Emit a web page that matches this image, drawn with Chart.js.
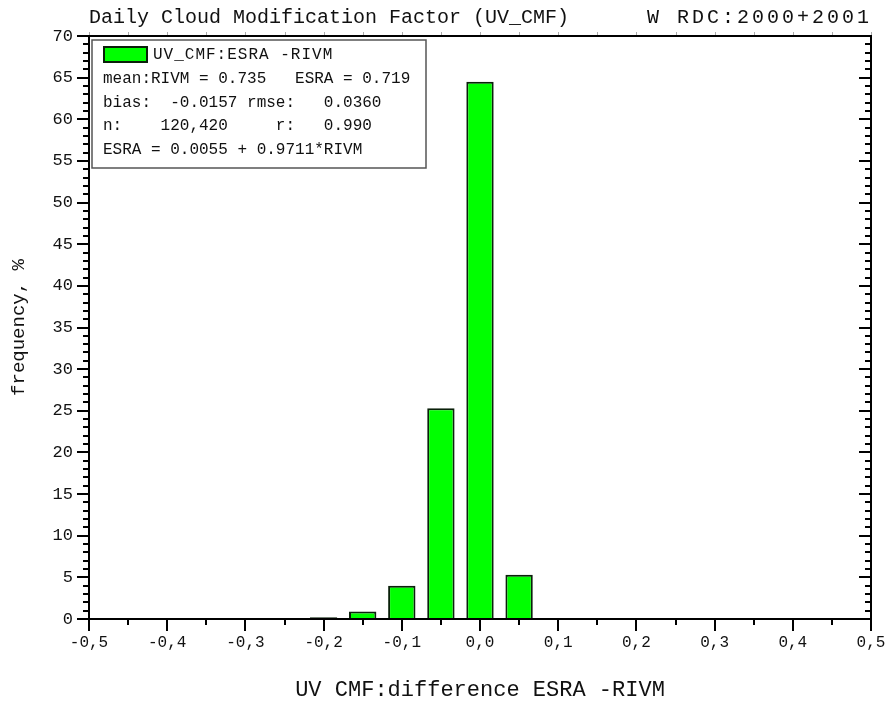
<!DOCTYPE html>
<html>
<head>
<meta charset="utf-8">
<title>UV_CMF ESRA - RIVM</title>
<script src="https://cdn.jsdelivr.net/npm/chart.js@4.4.1/dist/chart.umd.min.js"></script>
<style>
    html, body { margin: 0; padding: 0; background: #fff; }
    #wrap { width: 886px; height: 703px; }
</style>
</head>
<body>
<div id="wrap"><canvas id="cmfChart" width="886" height="703"></canvas></div>
<script>
// Histograma de diferencias diarias ESRA - RIVM (UV_CMF)
const centrosClase = [-0.2, -0.15, -0.1, -0.05, 0.0, 0.05];
const frecuencia = [0.2, 0.9, 4.0, 25.3, 64.5, 5.3];

// Ejes
const rangoX = [-0.5, 0.5];
const pasoX = 0.1;
const rangoY = [0, 70];
const pasoY = 5;

// Textos
const titulo = 'Daily Cloud Modification Factor (UV_CMF)';
const tituloDerecha = 'W RDC:2000+2001';
const etiquetaSerie = 'UV_CMF:ESRA -RIVM';
const lineasEstadisticas = [
    'mean:RIVM = 0.735   ESRA = 0.719',
    'bias:  -0.0157 rmse:   0.0360',
    'n:    120,420     r:   0.990',
    'ESRA = 0.0055 + 0.9711*RIVM'
];
const tituloEjeX = 'UV CMF:difference ESRA -RIVM';
const tituloEjeY = 'frequency, %';

const FUENTE = "'Liberation Mono', 'DejaVu Sans Mono', monospace";
const VERDE = '#00ff00';

function formatoComa(v) {
    if (Math.abs(v) < 1e-9) return '0,0';
    return v.toFixed(1).replace('.', ',');
}

// Marco, marcas de los ejes, título y cuadro de leyenda
const marcoPlugin = {
    id: 'marco',
    afterDatasetsDraw(chart) {
        const ctx = chart.ctx;
        const a = chart.chartArea;
        const sx = chart.scales.x;
        const sy = chart.scales.y;
        ctx.save();

        // marcas grises sobre el borde superior
        ctx.strokeStyle = '#aaa';
        ctx.lineWidth = 1;
        for (let i = -10; i <= 10; i++) {
            const px = Math.round(sx.getPixelForValue(i * 0.05)) + 0.5;
            ctx.beginPath();
            ctx.moveTo(px, a.top - 4);
            ctx.lineTo(px, a.top);
            ctx.stroke();
        }

        // marcas del eje Y (izquierda hacia fuera, derecha hacia dentro)
        ctx.strokeStyle = '#000';
        ctx.lineWidth = 2;
        for (let v = rangoY[0]; v <= rangoY[1]; v++) {
            const py = Math.round(sy.getPixelForValue(v));
            const largo = v % pasoY === 0 ? 12 : 6;
            ctx.beginPath();
            ctx.moveTo(a.left - largo, py);
            ctx.lineTo(a.left, py);
            ctx.moveTo(a.right - largo, py);
            ctx.lineTo(a.right, py);
            ctx.stroke();
        }

        // marcas del eje X
        for (let i = -10; i <= 10; i++) {
            const px = Math.round(sx.getPixelForValue(i * 0.05));
            const largo = i % 2 === 0 ? 12 : 6;
            ctx.beginPath();
            ctx.moveTo(px, a.bottom);
            ctx.lineTo(px, a.bottom + largo);
            ctx.stroke();
        }

        // marco
        ctx.lineWidth = 2;
        ctx.strokeRect(a.left, a.top, a.right - a.left, a.bottom - a.top);

        // título
        ctx.fillStyle = '#111';
        ctx.textBaseline = 'middle';
        ctx.font = '20px ' + FUENTE;
        ctx.textAlign = 'left';
        ctx.fillText(titulo, a.left, 18);
        ctx.textAlign = 'right';
        ctx.letterSpacing = '3px';
        ctx.fillText(tituloDerecha, a.right + 1, 18);
        ctx.letterSpacing = '0px';

        // cuadro de leyenda
        const bx = a.left + 3, by = a.top + 4, bw = 334, bh = 128;
        ctx.fillStyle = '#fff';
        ctx.fillRect(bx, by, bw, bh);
        ctx.strokeStyle = '#555';
        ctx.lineWidth = 1.5;
        ctx.strokeRect(bx, by, bw, bh);

        ctx.fillStyle = VERDE;
        ctx.fillRect(bx + 12, by + 7, 43, 15);
        ctx.strokeStyle = '#0a200a';
        ctx.lineWidth = 2;
        ctx.strokeRect(bx + 12, by + 7, 43, 15);

        ctx.fillStyle = '#111';
        ctx.textAlign = 'left';
        ctx.font = '16px ' + FUENTE;
        ctx.letterSpacing = '1px';
        ctx.fillText(etiquetaSerie, bx + 61, by + 15);
        ctx.letterSpacing = '0px';
        lineasEstadisticas.forEach(function(linea, i) {
            ctx.fillText(linea, bx + 11, by + 39 + i * 23.5);
        });

        ctx.restore();
    }
};

const ctxCmf = document.getElementById('cmfChart').getContext('2d');
new Chart(ctxCmf, {
    type: 'bar',
    data: {
        datasets: [{
            label: etiquetaSerie,
            data: centrosClase.map(function(x, i) { return { x: x, y: frecuencia[i] }; }),
            backgroundColor: VERDE,
            borderColor: '#0a200a',
            borderWidth: 2,
            barPercentage: 1.0,
            categoryPercentage: 0.7
        }]
    },
    options: {
        responsive: false,
        animation: false,
        devicePixelRatio: 1,
        layout: { padding: { top: 36, right: 15, left: 0, bottom: 0 } },
        plugins: {
            legend: { display: false },
            tooltip: { enabled: false }
        },
        scales: {
            x: {
                type: 'linear',
                min: rangoX[0],
                max: rangoX[1],
                offset: false,
                grid: { display: false, drawTicks: false },
                border: { display: false },
                ticks: {
                    stepSize: pasoX,
                    padding: 14,
                    color: '#111',
                    maxRotation: 0,
                    font: { family: FUENTE, size: 16 },
                    callback: function(v) { return formatoComa(v); }
                },
                title: {
                    display: true,
                    text: tituloEjeX,
                    color: '#111',
                    font: { family: FUENTE, size: 22 },
                    padding: { top: 0, bottom: 0 }
                },
                afterFit: function(scale) {
                    scale.height = 84;
                    scale.paddingLeft = 0;
                    scale.paddingRight = 0;
                }
            },
            y: {
                min: rangoY[0],
                max: rangoY[1],
                grid: { display: false, drawTicks: false },
                border: { display: false },
                ticks: {
                    stepSize: pasoY,
                    padding: 16,
                    color: '#111',
                    font: { family: FUENTE, size: 17 }
                },
                title: {
                    display: true,
                    text: tituloEjeY,
                    color: '#111',
                    font: { family: FUENTE, size: 19 },
                    padding: { top: 8, bottom: 0 }
                },
                afterFit: function(scale) {
                    scale.width = 89;
                    scale.paddingTop = 0;
                    scale.paddingBottom = 0;
                }
            }
        }
    },
    plugins: [marcoPlugin]
});
</script>
</body>
</html>
